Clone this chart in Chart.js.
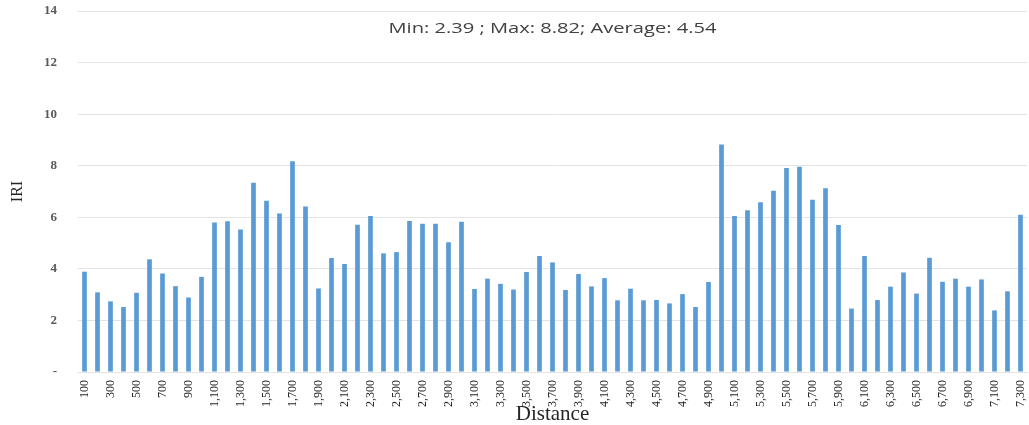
<!DOCTYPE html>
<html>
<head>
<meta charset="utf-8">
<script src="https://cdn.jsdelivr.net/npm/chart.js@4.4.1/dist/chart.umd.min.js"></script>
<style>
  html, body { margin: 0; padding: 0; background: #ffffff; }
  #wrap { width: 1029px; height: 425px; position: relative; }
</style>
</head>
<body>
<div id="wrap"><canvas id="c" width="1029" height="425"></canvas></div>
<script>
// Distances (m)
const distances = [100,200,300,400,500,600,700,800,900,1000,1100,1200,1300,1400,1500,1600,1700,1800,1900,2000,2100,2200,2300,2400,2500,2600,2700,2800,2900,3000,3100,3200,3300,3400,3500,3600,3700,3800,3900,4000,4100,4200,4300,4400,4500,4600,4700,4800,4900,5000,5100,5200,5300,5400,5500,5600,5700,5800,5900,6000,6100,6200,6300,6400,6500,6600,6700,6800,6900,7000,7100,7200,7300];
// IRI values
const iriValues = [3.89,3.09,2.74,2.52,3.07,4.37,3.82,3.33,2.89,3.69,5.80,5.85,5.53,7.34,6.64,6.15,8.17,6.42,3.24,4.42,4.19,5.71,6.05,4.60,4.65,5.86,5.75,5.75,5.03,5.83,3.22,3.62,3.42,3.20,3.88,4.50,4.25,3.18,3.80,3.32,3.64,2.78,3.23,2.78,2.79,2.66,3.02,2.52,3.49,8.82,6.05,6.27,6.58,7.03,7.91,7.96,6.68,7.13,5.70,2.46,4.50,2.79,3.31,3.86,3.04,4.43,3.50,3.62,3.31,3.59,2.39,3.13,6.10];
// Y tick values
const yTicks = [0,2,4,6,8,10,12,14];
const statsText = "Min: 2.39 ; Max: 8.82; Average: 4.54";

const categoryLabels = distances.map(d => d.toLocaleString('en-US'));

const statsPlugin = {
  id: 'stats',
  afterDraw(chart) {
    const {ctx, chartArea} = chart;
    ctx.save();
    ctx.font = '14px "Open Sans", sans-serif';
    ctx.fillStyle = '#404040';
    ctx.textAlign = 'center';
    ctx.textBaseline = 'middle';
    const w = ctx.measureText(statsText).width;
    const sx = 328 / w;
    ctx.translate((chartArea.left + chartArea.right) / 2, 29);
    ctx.scale(sx, 1);
    ctx.fillText(statsText, 0, 0);
    ctx.restore();
  }
};

new Chart(document.getElementById('c'), {
  type: 'bar',
  data: {
    labels: categoryLabels,
    datasets: [{
      data: iriValues,
      backgroundColor: '#5B9BD5',
      borderWidth: 0,
      barPercentage: 0.6,
      categoryPercentage: 0.6
    }]
  },
  options: {
    responsive: false,
    animation: false,
    devicePixelRatio: 1,
    layout: { padding: { top: 11, right: 2, left: 0, bottom: 0 } },
    plugins: { legend: { display: false }, tooltip: { enabled: false }, title: { display: false } },
    scales: {
      x: {
        grid: { display: false },
        border: { display: true, color: '#e3e3e3' },
        ticks: {
          autoSkip: false,
          maxRotation: 90,
          minRotation: 90,
          padding: 0,
          color: '#262626',
          font: { family: '"Liberation Serif", "Times New Roman", serif', size: 12 },
          callback: function(v, i) { return i % 2 === 0 ? categoryLabels[i] : ''; }
        },
        title: {
          display: true,
          text: 'Distance',
          color: '#262626',
          font: { family: '"Liberation Serif", "Times New Roman", serif', size: 21 },
          padding: { top: 0, bottom: -2 }
        },
        afterFit(scale) { scale.height = 53; scale.paddingRight = 0; scale.paddingLeft = 0; }
      },
      y: {
        min: 0,
        max: 14,
        afterBuildTicks(scale) { scale.ticks = yTicks.map(v => ({ value: v })); },
        grid: { color: '#e3e3e3', drawTicks: true, tickLength: 18, tickColor: 'rgba(0,0,0,0)' },
        border: { display: false },
        ticks: {
          padding: 3,
          color: '#595959',
          font: { family: '"Liberation Serif", "Times New Roman", serif', size: 13, weight: 'bold' },
          callback: v => v === 0 ? '-' : String(v)
        },
        title: {
          display: true,
          text: 'IRI',
          color: '#262626',
          font: { family: '"Liberation Serif", "Times New Roman", serif', size: 16 },
          padding: { top: 8, bottom: 0 }
        },
        afterFit(scale) { scale.width = 78; }
      }
    }
  },
  plugins: [statsPlugin]
});
</script>
</body>
</html>
